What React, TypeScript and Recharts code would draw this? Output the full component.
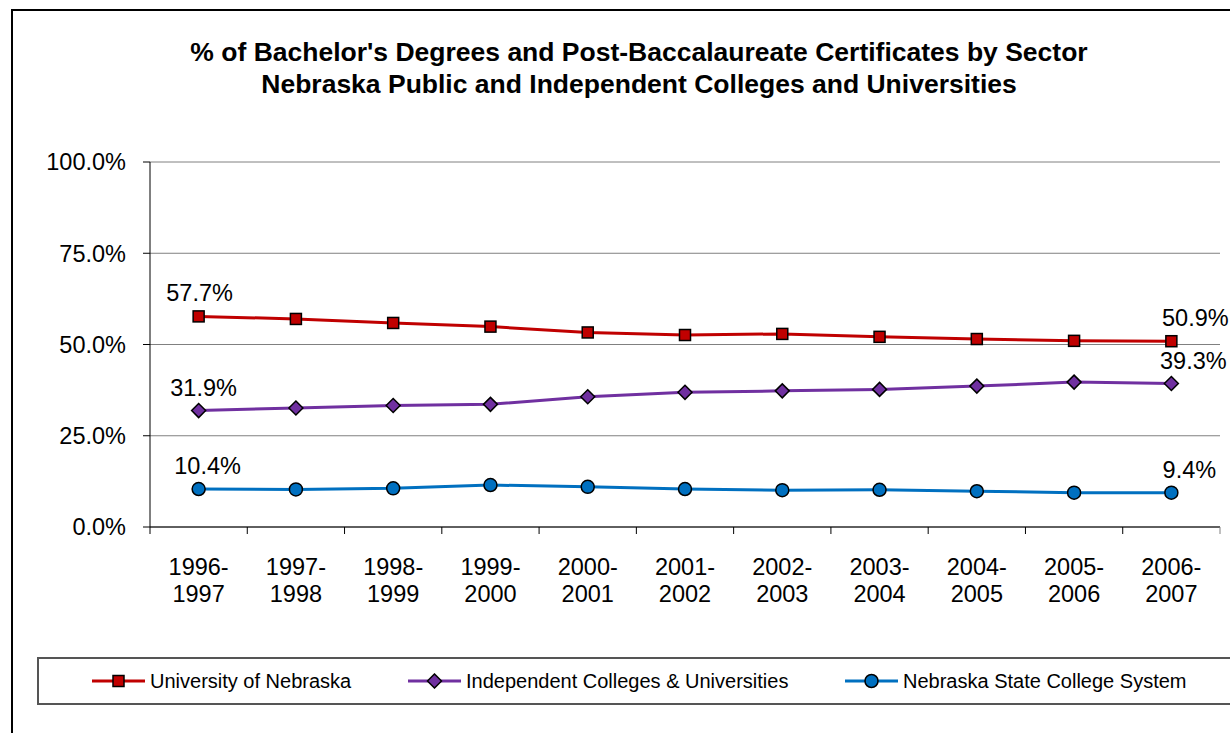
import { LineChart, Line, XAxis, YAxis, CartesianGrid, LabelList } from "recharts"

const periods = [
  "1996-1997", "1997-1998", "1998-1999", "1999-2000", "2000-2001", "2001-2002",
  "2002-2003", "2003-2004", "2004-2005", "2005-2006", "2006-2007"
]
const univNebraska = [57.7, 57.0, 55.9, 54.9, 53.3, 52.6, 52.9, 52.1, 51.5, 51.0, 50.9]
const independent = [31.9, 32.6, 33.3, 33.6, 35.7, 36.9, 37.3, 37.7, 38.6, 39.7, 39.3]
const stateCollege = [10.4, 10.3, 10.6, 11.5, 11.0, 10.4, 10.1, 10.2, 9.8, 9.4, 9.4]
const yTicks = [0, 25, 50, 75, 100]

const titleLines = [
  "% of Bachelor's Degrees and Post-Baccalaureate Certificates by Sector",
  "Nebraska Public and Independent Colleges and Universities"
]

const FONT = "'Liberation Sans', Arial, sans-serif"
const W = 1230
const H = 733
const MARGIN = { top: 162, right: 10, left: 10, bottom: 126 }
const Y_AXIS_W = 140
const X_AXIS_H = 80
const HALF_BAND = (W - MARGIN.left - Y_AXIS_W - MARGIN.right) / periods.length / 2

type Shape = "square" | "diamond" | "circle"

const series: { key: string; name: string; color: string; shape: Shape; labelDx: [number, number]; legendX: number }[] = [
  { key: "univ", name: "University of Nebraska", color: "#C00000", shape: "square", labelDx: [1, 24], legendX: 92 },
  { key: "indep", name: "Independent Colleges & Universities", color: "#7030A0", shape: "diamond", labelDx: [5, 22], legendX: 408 },
  { key: "state", name: "Nebraska State College System", color: "#0070C0", shape: "circle", labelDx: [9, 18], legendX: 845 }
]

const data = periods.map((period, i) => ({
  period,
  univ: univNebraska[i],
  indep: independent[i],
  state: stateCollege[i]
}))

const marker = (shape: Shape, color: string, cx: number, cy: number, key?: string) => {
  if (shape === "square")
    return <rect key={key} x={cx - 5.5} y={cy - 5.5} width={11} height={11} fill={color} stroke="#000" strokeWidth={1.5} />
  if (shape === "diamond")
    return (
      <polygon key={key} points={`${cx},${cy - 7} ${cx + 7},${cy} ${cx},${cy + 7} ${cx - 7},${cy}`}
        fill={color} stroke="#000" strokeWidth={1.5} />
    )
  return <circle key={key} cx={cx} cy={cy} r={6.5} fill={color} stroke="#000" strokeWidth={1.5} />
}

const PeriodTick = (props: any) => {
  const { x, y, payload, index } = props
  const [a, b] = String(payload.value).split("-")
  return (
    <g>
      <line x1={x - HALF_BAND} x2={x - HALF_BAND} y1={y} y2={y + 7} stroke="#000" />
      {index === periods.length - 1 && (
        <line x1={x + HALF_BAND} x2={x + HALF_BAND} y1={y} y2={y + 7} stroke="#808080" />
      )}
      <text x={x} y={y + 48} textAnchor="middle" fontSize={23.5} fontFamily={FONT} fill="#000">
        <tspan x={x}>{a}-</tspan>
        <tspan x={x} dy={27}>{b}</tspan>
      </text>
    </g>
  )
}

const edgeLabel = (dx: [number, number]) => (props: any) => {
  const { x, y, value, index } = props
  if (index !== 0 && index !== periods.length - 1) return null
  const off = index === 0 ? dx[0] : dx[1]
  return (
    <text x={x + off} y={y - 23 + 8} textAnchor="middle" fontSize={23.5} fontFamily={FONT} fill="#000">
      {Number(value).toFixed(1)}%
    </text>
  )
}

const App = () => {
  return (
    <div style={{ position: "absolute", left: 0, top: 0, width: W, height: H, overflow: "hidden", background: "#fff", fontFamily: FONT }}>
      <div style={{ position: "absolute", left: 11, top: 9, width: W + 20, height: H + 20, border: "2px solid #000", boxSizing: "border-box" }} />
      {titleLines.map((t, i) => (
        <div key={t} style={{
          position: "absolute", left: 639 - 600, width: 1200, top: i === 0 ? 37 : 69,
          textAlign: "center", fontSize: 26.5, lineHeight: "30px", fontWeight: "bold", color: "#000", whiteSpace: "nowrap"
        }}>{t}</div>
      ))}
      <div style={{ position: "absolute", left: 0, top: 0 }}>
        <LineChart width={W} height={H} data={data} margin={MARGIN}>
          <CartesianGrid vertical={false} stroke="#808080" />
          <XAxis dataKey="period" interval={0} height={X_AXIS_H} tickLine={false} tickSize={0} tickMargin={0}
            padding={{ left: HALF_BAND, right: HALF_BAND }}
            axisLine={{ stroke: "#000" }} tick={<PeriodTick />} />
          <YAxis domain={[0, 100]} ticks={yTicks} width={Y_AXIS_W} tickSize={7} tickMargin={17}
            tickFormatter={(v: number) => `${v.toFixed(1)}%`}
            axisLine={{ stroke: "#000" }} tickLine={{ stroke: "#000" }}
            tick={{ fill: "#000", fontSize: 23.5, fontFamily: FONT }} />
          <YAxis yAxisId="right" orientation="right" width={0} domain={[0, 100]} tick={false} tickLine={false}
            axisLine={{ stroke: "#808080" }} />
          {series.map((s) => (
            <Line key={s.key} dataKey={s.key} name={s.name} stroke={s.color} strokeWidth={3} isAnimationActive={false}
              dot={(p: any) => marker(s.shape, s.color, p.cx, p.cy, `${s.key}-${p.index}`)} activeDot={false}>
              <LabelList dataKey={s.key} content={edgeLabel(s.labelDx)} />
            </Line>
          ))}
        </LineChart>
      </div>
      <div style={{ position: "absolute", left: 37, top: 657, width: W, height: 48, border: "2px solid #555", boxSizing: "border-box" }}>
        {series.map((s) => (
          <div key={s.key} style={{ position: "absolute", left: s.legendX - 39, top: 0, height: 44, display: "flex", alignItems: "center" }}>
            <svg width={53} height={16} style={{ display: "block" }}>
              <line x1={0} x2={53} y1={8} y2={8} stroke={s.color} strokeWidth={3} />
              {marker(s.shape, s.color, 26.5, 8)}
            </svg>
            <span style={{ marginLeft: 5, fontSize: 20, color: "#000", whiteSpace: "nowrap" }}>{s.name}</span>
          </div>
        ))}
      </div>
    </div>
  )
}

export default App
